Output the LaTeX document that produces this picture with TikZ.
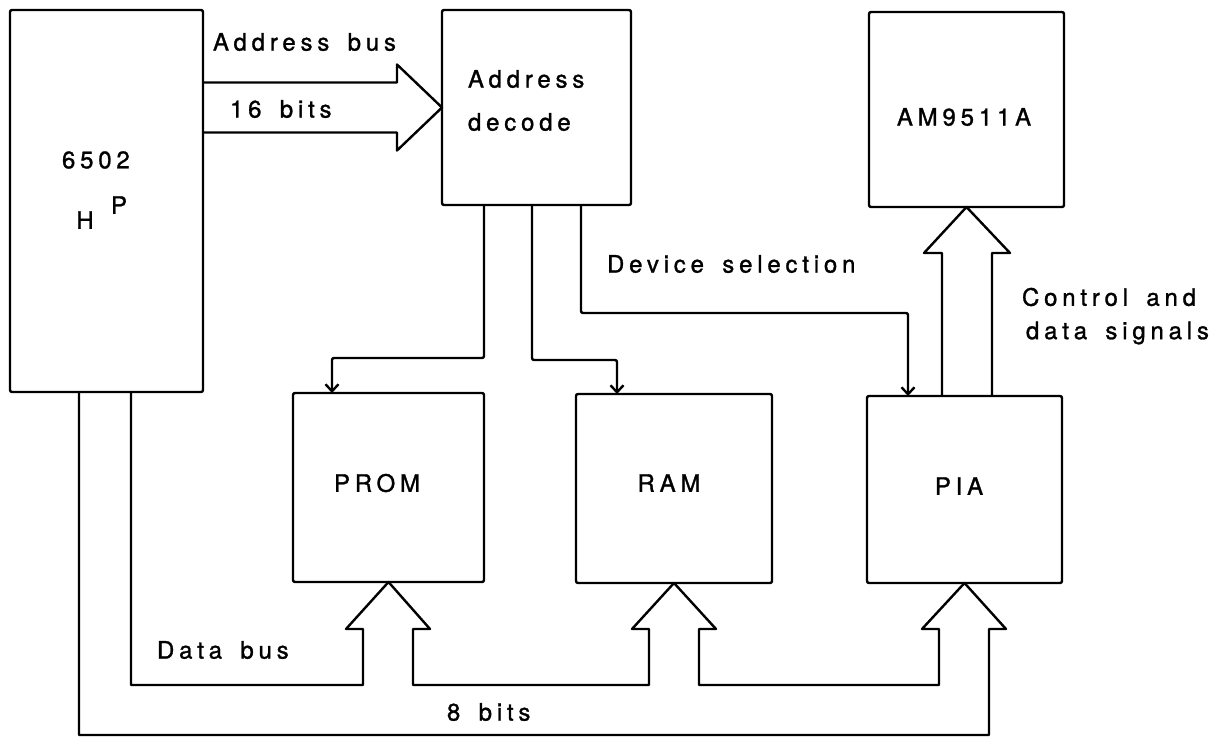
\documentclass[tikz,border=0pt]{standalone}
\usepackage{fontspec}
\setmainfont{TeX Gyre Heros}
\newfontfamily\lblfont[LetterSpace=20,FakeBold=1.2,WordSpace=1.6]{TeX Gyre Heros}
\usetikzlibrary{arrows.meta}
\begin{document}
\begin{tikzpicture}[x=1pt,y=-1pt,
  box/.style={draw, line width=2.4pt, rounded corners=2pt, inner sep=0pt, outer sep=0pt},
  bus/.style={draw, line width=2.4pt, line join=round},
  sel/.style={draw, line width=2.4pt, rounded corners=2pt, -{Straight Barb[length=7pt,width=13pt]}},
  txt/.style={font=\lblfont\fontsize{24}{28}\selectfont, inner sep=0pt, outer sep=0pt}]
\useasboundingbox (0,0) rectangle (1221,740);
% boxes
\node[box, minimum width=193pt, minimum height=382pt] (cpu) at (106.5,201) {};
\node[box, minimum width=189pt, minimum height=195pt] (dec) at (536.5,107.5) {};
\node[box, minimum width=195pt, minimum height=195pt] (am) at (966.5,109.5) {};
\node[box, minimum width=191pt, minimum height=189pt] (prom) at (388.5,487.5) {};
\node[box, minimum width=196pt, minimum height=189pt] (ram) at (674,488.5) {};
\node[box, minimum width=195pt, minimum height=187pt] (pia) at (964.5,489.5) {};
% address bus
\draw[bus] (cpu.east |- 0,82.5) -- (397,82.5) -- (397,64.5) -- (dec.west |- 0,107.5)
  -- (397,150.5) -- (397,132.5) -- (cpu.east |- 0,132.5);
% control and data signals
\draw[bus] (942,0 |- pia.north) -- (942,253) -- (924,253) -- (am.south)
  -- (1010,253) -- (992,253) -- (992,0 |- pia.north);
% data bus
\draw[bus] (131,0 |- cpu.south) -- (131,685) -- (363,685) -- (363,629) -- (346,629)
  -- (prom.south) -- (430,629) -- (413,629) -- (413,685) -- (649,685) -- (649,629)
  -- (632,629) -- (ram.south) -- (716,629) -- (699,629) -- (699,685) -- (939,685)
  -- (939,629) -- (922,629) -- (pia.south) -- (1006,629) -- (989,629) -- (989,735)
  -- (79,735) -- (79,0 |- cpu.south);
% device selection lines
\draw[sel] (484,0 |- dec.south) -- (484,358) -- (332,358) -- (332,0 |- prom.north);
\draw[sel] (532,0 |- dec.south) -- (532,360) -- (617,360) -- (617,0 |- ram.north);
\draw[sel] (581,0 |- dec.south) -- (581,313) -- (908,313) -- (908,0 |- pia.north);
% labels
\node[txt, anchor=west] (laddr) at (213,42) {Address bus};
\node[txt, anchor=west] (l16) at (230,109) {16 bits};
\node[txt, anchor=west] (l6502) at (62,160) {6502};
\node[txt] (lh) at (85,220) {H};
\node[txt] (lp) at (119,205) {P};
\node[txt, anchor=west] (ladd) at (468,79) {Address};
\node[txt, anchor=west] (ldec) at (468,122) {decode};
\node[txt] (lam) at (964,117) {AM9511A};
\node[txt, anchor=west] (ldev) at (607,264) {Device selection};
\node[txt, anchor=west] (lctl) at (1022,297) {Control and};
\node[txt, anchor=west] (lsig) at (1026,333) {data signals};
\node[txt] (lprom) at (377,483) {PROM};
\node[txt] (lram) at (669,483) {RAM};
\node[txt] (lpia) at (959,486) {PIA};
\node[txt, anchor=west] (ldata) at (157,650) {Data bus};
\node[txt, anchor=west] (l8) at (447,712) {8 bits};
\end{tikzpicture}
\end{document}
